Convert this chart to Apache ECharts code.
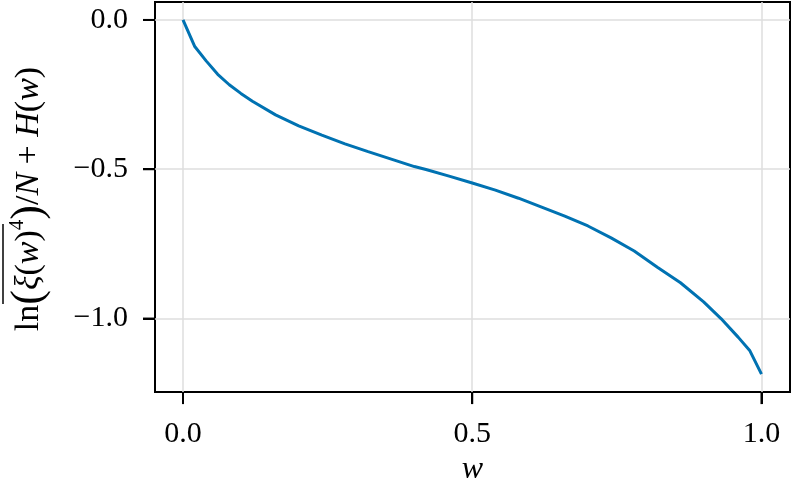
<!DOCTYPE html>
<html>
<head>
<meta charset="utf-8">
<script src="https://cdn.jsdelivr.net/npm/echarts@6/dist/echarts.min.js"></script>
<style>
  html, body { margin: 0; padding: 0; background: #fff; }
  #main { width: 793px; height: 491px; }
</style>
</head>
<body>
<div id="main"></div>
<script>
  // values
  var wVals = [0, 0.02, 0.04, 0.06, 0.08, 0.10, 0.12, 0.16, 0.20, 0.24, 0.28, 0.32, 0.36, 0.40, 0.42,
               0.46, 0.50, 0.54, 0.58, 0.62, 0.66, 0.70, 0.74, 0.78, 0.82, 0.86, 0.90, 0.93, 0.96, 0.98, 1.00]
  var yVals = [0, -0.088, -0.137, -0.182, -0.217, -0.246, -0.272, -0.318, -0.355, -0.386, -0.415, -0.441, -0.466, -0.491, -0.501,
               -0.523, -0.546, -0.570, -0.597, -0.627, -0.657, -0.690, -0.730, -0.774, -0.828, -0.880, -0.944, -1.000, -1.063, -1.108, -1.186]
  var xTicks = [0, 0.5, 1.0]
  var yTicks = [0, -0.5, -1.0]

  var serif = '"Liberation Serif", "DejaVu Serif", serif'
  var fmt = function (v) { return Number(v).toFixed(1).replace('-', '\u2212') }
  var xMin = -0.0484, xMax = 1.0493
  var yMin = -1.2463, yMax = 0.0601
  var tickLen = 12

  var gridStyle = { color: '#dedede', width: 1.5 }

  // outward tick marks, drawn through the axes' own scales
  function xTickItem(params, api) {
    var p = api.coord([api.value(0), yMin])
    return { type: 'line', shape: { x1: p[0], y1: p[1], x2: p[0], y2: p[1] + tickLen },
             style: { stroke: '#000', lineWidth: 2 } }
  }
  function yTickItem(params, api) {
    var p = api.coord([xMin, api.value(0)])
    return { type: 'line', shape: { x1: p[0], y1: p[1], x2: p[0] - tickLen, y2: p[1] },
             style: { stroke: '#000', lineWidth: 2 } }
  }

  var chart = echarts.init(document.getElementById('main'))
  chart.setOption({
    animation: false,
    grid: {
      left: 155, right: 3, top: 2, bottom: 98,
      show: true,
      borderColor: '#000',
      borderWidth: 2
    },
    xAxis: {
      type: 'value',
      min: xMin,
      max: xMax,
      axisLine: { show: false, onZero: false },
      axisTick: { show: true, length: tickLen, customValues: xTicks, lineStyle: { color: '#000', width: 2 } },
      axisLabel: { customValues: xTicks, formatter: fmt, margin: 27, color: '#000', fontFamily: serif, fontSize: 30 },
      splitLine: { show: true, customValues: xTicks, lineStyle: gridStyle },
      name: 'w',
      nameLocation: 'middle',
      nameGap: 60,
      nameTextStyle: { color: '#000', fontFamily: serif, fontSize: 32, fontStyle: 'italic' }
    },
    yAxis: {
      type: 'value',
      min: yMin,
      max: yMax,
      axisLine: { show: false, onZero: false },
      axisTick: { show: true, length: tickLen, customValues: yTicks, lineStyle: { color: '#000', width: 2 } },
      axisLabel: { customValues: yTicks, formatter: fmt, margin: 27, color: '#000', fontFamily: serif, fontSize: 30 },
      splitLine: { show: true, customValues: yTicks, lineStyle: gridStyle }
    },
    graphic: [{
      type: 'group',
      x: 29,
      y: 199,
      rotation: Math.PI / 2,
      children: [{
        type: 'text',
        style: {
          text: '{r|ln}{p|(}{i|ξ}{r|(}{i|w}{r|)}{s|4}{p|)}{r|/}{i|N}{r| + }{i|H}{r|(}{i|w}{r|)}',
          align: 'center',
          verticalAlign: 'middle',
          rich: {
            r: { fontFamily: serif, fontSize: 34, fill: '#000' },
            p: { fontFamily: serif, fontSize: 44, fill: '#000' },
            i: { fontFamily: serif, fontSize: 34, fontStyle: 'italic', fill: '#000' },
            s: { fontFamily: serif, fontSize: 21, fill: '#000', verticalAlign: 'top', padding: [0, 0, 18, 0] }
          }
        }
      }, {
        type: 'line',
        shape: { x1: -105, y1: -26, x2: -25, y2: -26 },
        style: { stroke: '#000', lineWidth: 1.5 }
      }]
    }],
    series: [{
      type: 'line',
      data: wVals.map(function (w, i) { return [w, yVals[i]] }),
      showSymbol: false,
      lineStyle: { color: '#0072b2', width: 3 },
      itemStyle: { color: '#0072b2' }
    }, {
      type: 'custom',
      clip: false,
      silent: true,
      z: 5,
      data: xTicks.map(function (v) { return [v, yMin] }),
      renderItem: xTickItem
    }, {
      type: 'custom',
      clip: false,
      silent: true,
      z: 5,
      data: yTicks.map(function (v) { return [xMin, v] }),
      encode: { x: 0, y: 1 },
      renderItem: function (params, api) {
        var p = api.coord([xMin, api.value(1)])
        return { type: 'line', shape: { x1: p[0], y1: p[1], x2: p[0] - tickLen, y2: p[1] },
                 style: { stroke: '#000', lineWidth: 2 } }
      }
    }]
  })
</script>
</body>
</html>
